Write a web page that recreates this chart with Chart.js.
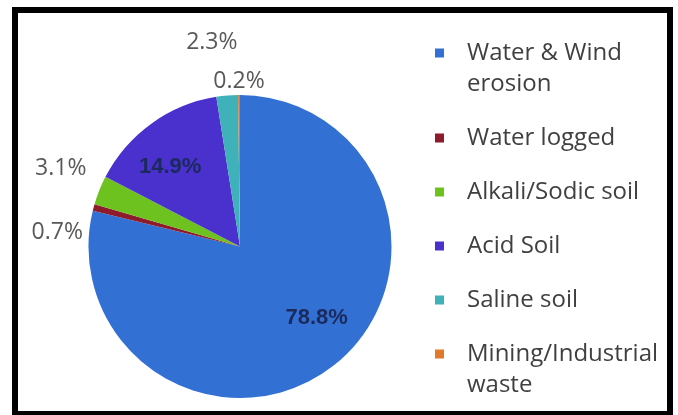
<!DOCTYPE html>
<html>
<head>
<meta charset="utf-8">
<script src="https://cdn.jsdelivr.net/npm/chart.js@4.4.1/dist/chart.umd.min.js"></script>
<style>
  html, body { margin: 0; padding: 0; background: #fff; }
  #wrap { position: relative; width: 678px; height: 415px; overflow: hidden; }
  #landChart { position: absolute; left: 0; top: 0; }
  #frame {
    position: absolute; left: 12px; top: 7px; width: 661px; height: 410px;
    box-sizing: border-box; border: 6px solid #000; pointer-events: none;
  }
</style>
</head>
<body>
<div id="wrap">
  <canvas id="landChart" width="678" height="415"></canvas>
  <div id="frame"></div>
</div>
<script>
// Degraded land by cause, share of total (%)
const categories = [
    'Water & Wind erosion',
    'Water logged',
    'Alkali/Sodic soil',
    'Acid Soil',
    'Saline soil',
    'Mining/Industrial waste'
];
const shares = [78.8, 0.7, 3.1, 14.9, 2.3, 0.2];

const sliceColors = ['#3370d4', '#8e1b2c', '#6dc220', '#4a30cc', '#3eb2b8', '#e07a2a'];

// where each percentage sits: fraction of radius, angle nudge in degrees
const labelSpots = [
    { f: 0.69, nudge: -9,    inside: true },
    { f: 1.21, nudge: -10.5, inside: false },
    { f: 1.29, nudge: 1.7,   inside: false },
    { f: 0.70, nudge: -5.4,  inside: true },
    { f: 1.36, nudge: -3,    inside: false },
    { f: 1.09, nudge: 0,     inside: false }
];

// ── percentage labels on / around the slices ───────────────────────────
const sliceLabels = {
    id: 'sliceLabels',
    afterDatasetsDraw(chart) {
        const ctx = chart.ctx;
        const arcs = chart.getDatasetMeta(0).data;
        ctx.save();
        ctx.textAlign = 'center';
        ctx.textBaseline = 'middle';
        arcs.forEach((arc, i) => {
            const spot = labelSpots[i];
            const mid = (arc.startAngle + arc.endAngle) / 2 + spot.nudge * Math.PI / 180;
            const r = arc.outerRadius * spot.f;
            const x = arc.x + Math.cos(mid) * r;
            const y = arc.y + Math.sin(mid) * r;
            if (spot.inside) {
                ctx.font = 'bold 22px "Liberation Sans", Arial, sans-serif';
                ctx.fillStyle = '#1b2a5c';
            } else {
                ctx.font = '23px "Open Sans", sans-serif';
                ctx.fillStyle = '#595959';
            }
            ctx.fillText(shares[i].toFixed(1) + '%', x, y);
        });
        ctx.restore();
    }
};

// ── legend down the right side, wrapped like the original ──────────────
const sideLegend = {
    id: 'sideLegend',
    afterDraw(chart) {
        const ctx = chart.ctx;
        const left = 435, textX = 467, maxW = 196;
        const lineH = 31, gap = 54;
        let y = 53;
        ctx.save();
        ctx.font = '24px "Open Sans", sans-serif';
        ctx.textBaseline = 'middle';
        categories.forEach((name, i) => {
            // simple word wrap
            const lines = [];
            let cur = '';
            name.split(' ').forEach(word => {
                const test = cur ? cur + ' ' + word : word;
                if (cur && ctx.measureText(test).width > maxW) {
                    lines.push(cur);
                    cur = word;
                } else {
                    cur = test;
                }
            });
            lines.push(cur);

            ctx.fillStyle = sliceColors[i];
            ctx.fillRect(left, y - 4.5, 9, 9);
            ctx.fillStyle = '#404040';
            lines.forEach((ln, k) => ctx.fillText(ln, textX, y + k * lineH));
            y += gap + (lines.length - 1) * lineH;
        });
        ctx.restore();
    }
};

new Chart(document.getElementById('landChart').getContext('2d'), {
    type: 'pie',
    data: {
        labels: categories,
        datasets: [{
            data: shares,
            backgroundColor: sliceColors,
            borderWidth: 0,
            hoverOffset: 0
        }]
    },
    options: {
        responsive: false,
        animation: false,
        layout: { padding: { left: 88, top: 95, right: 286, bottom: 17 } },
        plugins: {
            legend: { display: false },
            tooltip: { enabled: false }
        }
    },
    plugins: [sliceLabels, sideLegend]
});
</script>
</body>
</html>
